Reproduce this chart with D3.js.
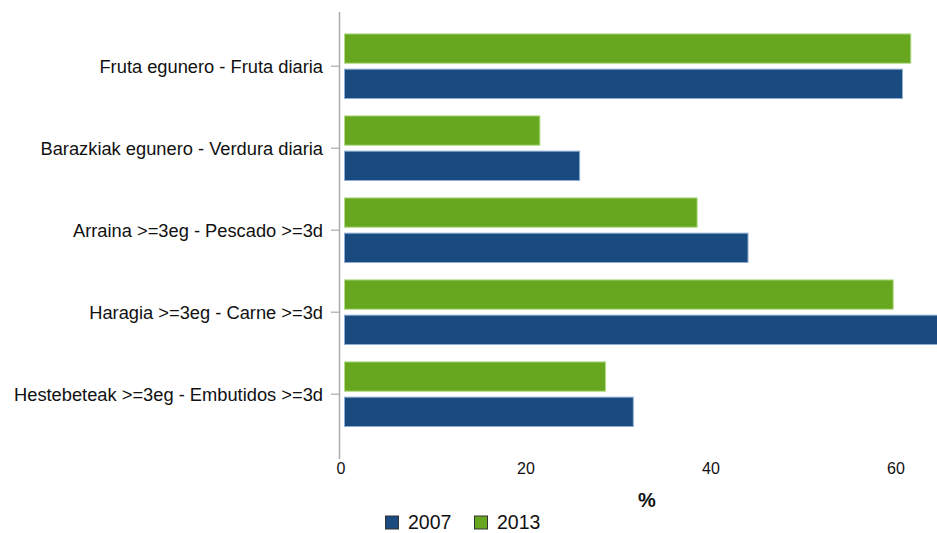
<!DOCTYPE html>
<html><head><meta charset="utf-8">
<script src="https://cdn.jsdelivr.net/npm/d3@7"></script>
<style>body{margin:0;background:#fff}svg{display:block;font-family:"Liberation Sans",Arial,sans-serif}</style>
</head><body>
<script>
const categories = ["Fruta egunero - Fruta diaria","Barazkiak egunero - Verdura diaria","Arraina >=3eg - Pescado >=3d","Haragia >=3eg - Carne >=3d","Hestebeteak >=3eg - Embutidos >=3d"];
const series = ["2013","2007"];
const values2007 = [60.7, 25.8, 44.0, 66.5, 31.6];
const values2013 = [61.6, 21.5, 38.5, 59.7, 28.6];
const xTicks = [0, 20, 40, 60];
const legendOrder = ["2007","2013"];
const colors = {"2007":"#194b80","2013":"#67a61f"};
const strokes = {"2007":"#8eaed3","2013":"#b3dc86"};

const W = 937, H = 533;
const svg = d3.select("body").append("svg").attr("width", W).attr("height", H);
svg.append("defs").append("clipPath").attr("id","clip").append("rect").attr("x",0).attr("y",0).attr("width",W).attr("height",H);

const x = d3.scaleLinear().domain([0, 60]).range([341, 896]);
const y = d3.scaleBand().domain(categories).range([25.2, 435.2]).paddingInner(0.2).paddingOuter(0.1);
const ys = d3.scaleBand().domain(series).range([0, y.bandwidth()]).paddingInner(0.14);

const data = categories.map((c, i) => ({cat: c, vals: {"2007": values2007[i], "2013": values2013[i]}}));

const g = svg.append("g").attr("clip-path","url(#clip)");
const groups = g.selectAll("g.grp").data(data).join("g").attr("class","grp")
  .attr("transform", d => `translate(0,${y(d.cat)})`);
groups.selectAll("rect").data(d => series.map(s => ({s, v: d.vals[s]}))).join("rect")
  .attr("x", x(0) + 3.5)
  .attr("y", d => ys(d.s) + 0.5)
  .attr("width", d => x(d.v) - x(0) - 3.5)
  .attr("height", ys.bandwidth() - 1)
  .attr("fill", d => colors[d.s])
  .attr("stroke", d => strokes[d.s])
  .attr("stroke-width", 1);

// y axis
const axisX = 339.5;
svg.append("line").attr("x1", axisX).attr("x2", axisX).attr("y1", 12).attr("y2", 459)
  .attr("stroke", "#aaaaaa").attr("stroke-width", 1.5);
const yt = svg.selectAll("g.ytick").data(categories).join("g").attr("class","ytick")
  .attr("transform", d => `translate(0,${y(d) + y.bandwidth()/2})`);
yt.append("line").attr("x1", 331).attr("x2", axisX).attr("stroke", "#aaaaaa").attr("stroke-width", 1.2);
yt.append("text").attr("x", 323).attr("dy", "0.35em").attr("text-anchor", "end")
  .attr("font-size", 18.3).attr("fill", "#111").text(d => d);

// x tick labels
svg.selectAll("text.xt").data(xTicks).join("text").attr("class","xt")
  .attr("x", d => x(d)).attr("y", 474).attr("text-anchor","middle")
  .attr("font-size", 16).attr("fill", "#111").text(d => d);

svg.append("text").attr("x", 647).attr("y", 507).attr("text-anchor","middle")
  .attr("font-size", 20).attr("font-weight","bold").attr("fill","#111").text("%");

// legend
const legX = [385, 474];
const lg = svg.selectAll("g.leg").data(legendOrder).join("g").attr("class","leg")
  .attr("transform", (d, i) => `translate(${legX[i]},515.5)`);
lg.append("rect").attr("x",0.5).attr("y",0.5).attr("width",13).attr("height",13)
  .attr("fill", d => colors[d]).attr("stroke","#333").attr("stroke-width",1);
lg.append("text").attr("x", 23).attr("y", 13.5).attr("font-size", 19.5).attr("fill","#111").text(d => d);
</script>
</body></html>
